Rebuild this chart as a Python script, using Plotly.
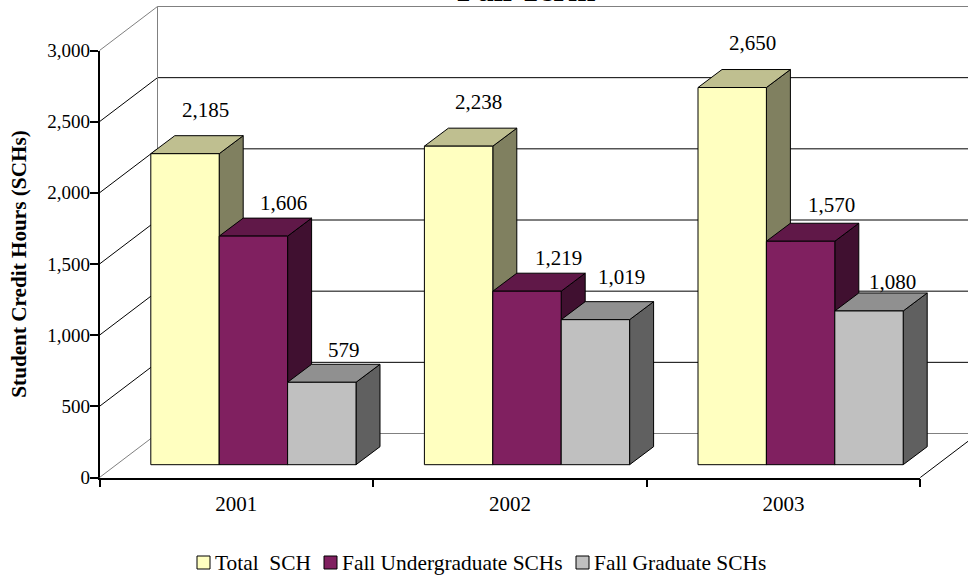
import plotly.graph_objects as go

years = ["2001", "2002", "2003"]
series_names = ["Total  SCH", "Fall Undergraduate SCHs", "Fall Graduate SCHs"]
total_sch = [2185, 2238, 2650]
undergrad_sch = [1606, 1219, 1570]
grad_sch = [579, 1019, 1080]
y_ticks = [0, 500, 1000, 1500, 2000, 2500, 3000]

series_values = [total_sch, undergrad_sch, grad_sch]
front_colors = ["#FFFFC0", "#802060", "#C0C0C0"]
top_colors = ["#BFBF90", "#601848", "#909090"]
side_colors = ["#808060", "#401030", "#606060"]

# layout constants (pixels)
W, H = 968, 575
AX_L, AX_R = 99.5, 920.3
AX_B, AX_T = 477.5, 50.5
PX_X = (AX_R - AX_L) / 3
PX_Y = (AX_B - AX_T) / 3000
WALL_DX, WALL_DY = 58 / PX_X, 44 / PX_Y
BAR_DX, BAR_DY = 24 / PX_X, 18 / PX_Y
BAR_BASE = 12.8 / PX_Y
BAR_W = 0.25
BAR_START = -0.3125
FONT = "Liberation Serif"
# manual label placement from each bar top (px): right, up
LABEL_SHIFT = [
    [(20, 44), (20, 44), (20, 45)],
    [(30, 33), (31, 33), (31, 36)],
    [(22, 32), (26, 43), (23, 29)],
]
# legend placement (px): swatch left, text left
LEGEND_SWATCH_X = [197, 324, 576]
LEGEND_TEXT_X = [216, 343, 595]
LEGEND_Y = 562.5
SWATCH = 13

fig = go.Figure()
x_max = (W - AX_L) / PX_X
xd = dict(xaxis="x2", yaxis="y2")

# walls and floor
for v in y_ticks:
    color = "#808080" if v in (0, 3000) else "#000000"
    fig.add_trace(go.Scatter(x=[0, WALL_DX, x_max], y=[v, v + WALL_DY, v + WALL_DY],
                             mode="lines", line=dict(color=color, width=1),
                             showlegend=False, hoverinfo="skip", **xd))
fig.add_trace(go.Scatter(x=[WALL_DX, WALL_DX], y=[WALL_DY, 3000 + WALL_DY], mode="lines",
                         line=dict(color="#808080", width=1), showlegend=False,
                         hoverinfo="skip", **xd))
fig.add_trace(go.Scatter(x=[3, 3 + WALL_DX], y=[0, WALL_DY], mode="lines",
                         line=dict(color="#000000", width=1), showlegend=False,
                         hoverinfo="skip", **xd))

# side and top faces, then bar fronts above them
for s, vals in enumerate(series_values):
    sx, sy, tx, ty = [], [], [], []
    for g, v in enumerate(vals):
        x0 = g + 0.5 + BAR_START + s * BAR_W
        x1 = x0 + BAR_W
        top = v + BAR_BASE
        sx += [x1, x1 + BAR_DX, x1 + BAR_DX, x1, x1, None]
        sy += [BAR_BASE, BAR_BASE + BAR_DY, top + BAR_DY, top, BAR_BASE, None]
        tx += [x0, x1, x1 + BAR_DX, x0 + BAR_DX, x0, None]
        ty += [top, top, top + BAR_DY, top + BAR_DY, top, None]
    fig.add_trace(go.Scatter(x=sx, y=sy, mode="lines", fill="toself", fillcolor=side_colors[s],
                             line=dict(color="#000000", width=1), showlegend=False,
                             hoverinfo="skip", **xd))
    fig.add_trace(go.Scatter(x=tx, y=ty, mode="lines", fill="toself", fillcolor=top_colors[s],
                             line=dict(color="#000000", width=1), showlegend=False,
                             hoverinfo="skip", **xd))

for s, vals in enumerate(series_values):
    fig.add_trace(go.Bar(x=[0.5, 1.5, 2.5], y=vals, base=BAR_BASE, width=BAR_W,
                         offset=BAR_START + s * BAR_W, name=series_names[s],
                         marker=dict(color=front_colors[s], line=dict(color="#000000", width=1)),
                         showlegend=False, xaxis="x3", yaxis="y3"))

# invisible trace to keep the visible axes in place
fig.add_trace(go.Scatter(x=[0], y=[0], mode="markers", marker=dict(opacity=0),
                         showlegend=False, hoverinfo="skip"))

annotations = [dict(text="<b>Fall Term</b>", x=526 / W, y=1, xref="paper", yref="paper",
                    xanchor="center", yanchor="bottom", yshift=-10, showarrow=False,
                    font=dict(family=FONT, size=33, color="#000000"))]
for s, vals in enumerate(series_values):
    for g, v in enumerate(vals):
        dx, dy = LABEL_SHIFT[s][g]
        annotations.append(dict(text=f"{v:,}", xref="x2", yref="y2",
                                x=g + 0.5 + BAR_START + (s + 0.5) * BAR_W, y=v + BAR_BASE,
                                xshift=dx, yshift=dy, showarrow=False,
                                font=dict(family=FONT, size=21, color="#000000")))

shapes = []
for s, name in enumerate(series_names):
    annotations.append(dict(text=name, xref="paper", yref="paper", x=LEGEND_TEXT_X[s] / W,
                            y=(H - LEGEND_Y) / H, xanchor="left", yanchor="middle",
                            xshift=-3, showarrow=False,
                            font=dict(family=FONT, size=21.4, color="#000000")))
    shapes.append(dict(type="rect", xref="paper", yref="paper",
                       x0=LEGEND_SWATCH_X[s] / W, x1=(LEGEND_SWATCH_X[s] + SWATCH) / W,
                       y0=(H - LEGEND_Y - SWATCH / 2) / H, y1=(H - LEGEND_Y + SWATCH / 2) / H,
                       fillcolor=front_colors[s], line=dict(color="#000000", width=1)))

xdom = [AX_L / W, AX_R / W]
ydom = [(H - AX_B) / H, (H - AX_T) / H]
full_x = [-AX_L / PX_X, x_max]
full_y = [-(H - AX_B) / PX_Y, AX_B / PX_Y]

fig.update_layout(
    width=W, height=H, margin=dict(l=0, r=0, t=0, b=0, autoexpand=False), autosize=False,
    paper_bgcolor="#FFFFFF", plot_bgcolor="rgba(0,0,0,0)",
    font=dict(family=FONT, color="#000000"),
    barmode="overlay",
    annotations=annotations,
    shapes=shapes,
    showlegend=False,
    hovermode=False,
    xaxis=dict(domain=xdom, range=[0, 3], tickmode="array", tickvals=[0.5, 1.5, 2.5], ticktext=years,
               ticks="outside", ticklen=8, tickcolor="rgba(0,0,0,0)", ticklabelstandoff=-1,
               tickfont=dict(family=FONT, size=21),
               showgrid=False, zeroline=False, showline=True, linecolor="#000000", linewidth=1.5,
               minor=dict(tickmode="array", tickvals=[0, 1, 2, 3], ticks="outside", ticklen=8,
                          tickcolor="#000000", tickwidth=1.5, showgrid=False),
               fixedrange=True),
    yaxis=dict(domain=ydom, range=[0, 3000], tickmode="array", tickvals=y_ticks, tickformat=",",
               ticks="outside", ticklen=8, tickcolor="#000000", tickwidth=1.5,
               ticklabelstandoff=-4,
               tickfont=dict(family=FONT, size=19),
               title=dict(text="<b>Student Credit Hours (SCHs)</b>", font=dict(family=FONT, size=21.2), standoff=15),
               showgrid=False, zeroline=False, showline=True, linecolor="#000000", linewidth=1.5,
               fixedrange=True),
    xaxis2=dict(domain=[0, 1], range=full_x, visible=False, anchor="y2", fixedrange=True),
    yaxis2=dict(domain=[0, 1], range=full_y, visible=False, anchor="x2", fixedrange=True),
    xaxis3=dict(domain=[0, 1], range=full_x, visible=False, anchor="y3", fixedrange=True),
    yaxis3=dict(domain=[0, 1], range=full_y, visible=False, anchor="x3", fixedrange=True),
)

fig.write_html("out.html", post_script="document.body.style.margin='0';",
               config=dict(displayModeBar=False))
